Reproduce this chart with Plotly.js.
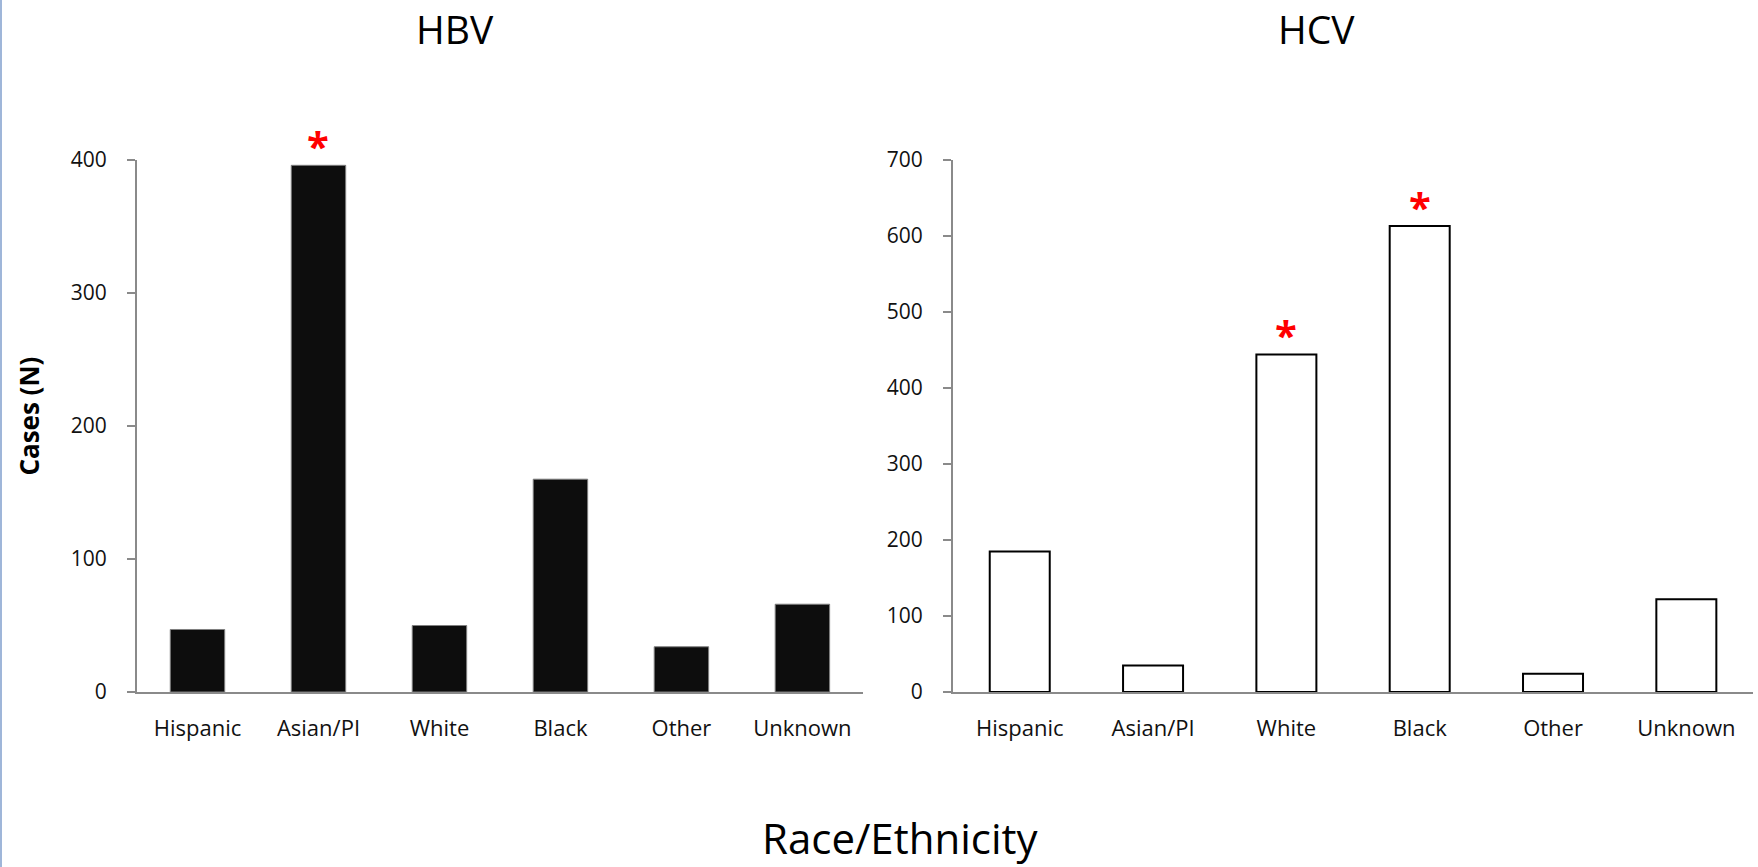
<!DOCTYPE html>
<html>
<head>
<meta charset="utf-8">
<script src="https://cdn.plot.ly/plotly-3.0.1.min.js"></script>
<style>
  html, body { margin: 0; padding: 0; background: #fff; }
  #wrap { width: 1758px; height: 867px; position: relative; }
  #edge { position: absolute; left: 0; top: 0; width: 2px; height: 867px; background: #9fb6d9; z-index: 5; }
  #chart { width: 1758px; height: 867px; }
</style>
</head>
<body>
<div id="wrap"><div id="edge"></div><div id="chart"></div></div>
<script>
// ---- data ----
const categories = ["Hispanic", "Asian/PI", "White", "Black", "Other", "Unknown"];
const hbvCases = [47, 396, 50, 160, 34, 66];
const hcvCases = [185, 35, 444, 613, 24, 122];
const hbvSignificant = [false, true, false, false, false, false];
const hcvSignificant = [false, false, true, true, false, false];
const panelTitles = ["HBV", "HCV"];
const yTitle = "Cases (N)";
const xTitle = "Race/Ethnicity";
const hbvTicks = [0, 100, 200, 300, 400];
const hcvTicks = [0, 100, 200, 300, 400, 500, 600, 700];

const FONT = "Open Sans, Lato, sans-serif";
const AXIS_GREY = "#8a8a8a";

const traces = [
  {
    type: "bar", x: categories, y: hbvCases, xaxis: "x", yaxis: "y",
    marker: { color: "#0d0d0d", line: { color: "#7f7f7f", width: 1 } },
    hoverinfo: "x+y", showlegend: false
  },
  {
    type: "bar", x: categories, y: hcvCases, xaxis: "x2", yaxis: "y2",
    marker: { color: "#ffffff", line: { color: "#000000", width: 2 } },
    hoverinfo: "x+y", showlegend: false
  }
];

function starAnnots(vals, sig, xr, yr) {
  const out = [];
  vals.forEach((v, i) => {
    if (sig[i]) out.push({
      x: categories[i], y: v, xref: xr, yref: yr,
      text: "*", showarrow: false, yanchor: "middle", yshift: 20,
      font: { family: "Open Sans", size: 40, color: "#ff0000", weight: "bold" }
    });
  });
  return out;
}

const xCommon = {
  type: "category", showline: true, linecolor: AXIS_GREY, linewidth: 2,
  ticks: "", showgrid: false, zeroline: false,
  tickfont: { family: FONT, size: 22, color: "#111" },
  ticklabelstandoff: 16, fixedrange: true
};
const yCommon = {
  showline: true, linecolor: AXIS_GREY, linewidth: 2,
  ticks: "outside", ticklen: 8, tickwidth: 2, tickcolor: AXIS_GREY,
  showgrid: false, zeroline: false,
  tickfont: { family: FONT, size: 21, color: "#111" },
  ticklabelstandoff: 16, fixedrange: true
};

const layout = {
  width: 1758, height: 867,
  margin: { l: 137, r: 5, t: 160, b: 175 },
  paper_bgcolor: "#ffffff", plot_bgcolor: "#ffffff",
  bargap: 0.55,
  xaxis: Object.assign({}, xCommon, { domain: [0, 0.4492], anchor: "y" }),
  xaxis2: Object.assign({}, xCommon, { domain: [0.5050, 1], anchor: "y2" }),
  yaxis: Object.assign({}, yCommon, { range: [0, 400], tickvals: hbvTicks, anchor: "x" }),
  yaxis2: Object.assign({}, yCommon, { range: [0, 700], tickvals: hcvTicks, anchor: "x2" }),
  annotations: [
    { text: panelTitles[0], xref: "paper", yref: "paper", x: 0.1969, y: 1.248,
      xanchor: "center", yanchor: "middle", showarrow: false,
      font: { family: FONT, size: 39, color: "#000" } },
    { text: panelTitles[1], xref: "paper", yref: "paper", x: 0.7300, y: 1.248,
      xanchor: "center", yanchor: "middle", showarrow: false,
      font: { family: FONT, size: 39, color: "#000" } },
    { text: xTitle, xref: "paper", yref: "paper", x: 0.4724, y: -0.2744,
      xanchor: "center", yanchor: "middle", showarrow: false,
      font: { family: FONT, size: 42, color: "#000" } },
    { text: "<b>" + yTitle + "</b>", xref: "paper", yref: "paper", x: -0.067, y: 0.519,
      xanchor: "center", yanchor: "middle", showarrow: false, textangle: -90,
      font: { family: FONT, size: 26, color: "#000" } }
  ].concat(starAnnots(hbvCases, hbvSignificant, "x", "y"))
   .concat(starAnnots(hcvCases, hcvSignificant, "x2", "y2"))
};

Plotly.newPlot("chart", traces, layout, { displayModeBar: false, staticPlot: true });
</script>
</body>
</html>
